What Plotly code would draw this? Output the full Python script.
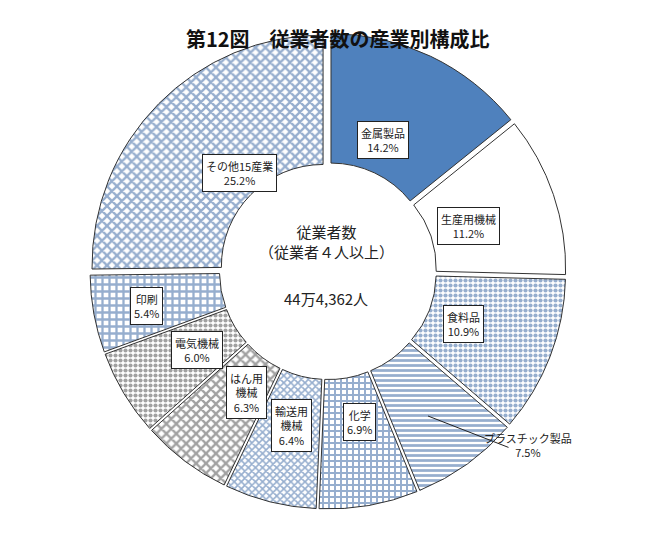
import plotly.graph_objects as go

labels = ["金属製品", "生産用機械", "食料品", "プラスチック製品", "化学", "輸送用機械", "はん用機械", "電気機械", "印刷", "その他15産業"]
values = [14.2, 11.2, 10.9, 7.5, 6.9, 6.4, 6.3, 6.0, 5.4, 25.2]
label_text = ["金属製品<br>14.2%", "生産用機械<br>11.2%", "食料品<br>10.9%", "プラスチック製品<br>7.5%", "化学<br>6.9%",
              "輸送用<br>機械<br>6.4%", "はん用<br>機械<br>6.3%", "電気機械<br>6.0%", "印刷<br>5.4%", "その他15産業<br>25.2%"]
label_px = [(375, 135), (492, 240), (476, 338), (568, 478), (351, 455), (283, 466), (218, 433), (163, 383), (122, 320), (194, 168)]

blue = "#4f81bd"
colors = [blue, "white", "white", "white", "white", "white", "white", "white", "white", "white"]
shapes = ["", "", ".", "-", "+", "x", "x", ".", "+", "x"]
fg = [blue, blue, "#2e5d9e", "#2e5d9e", "#2e5d9e", "#2e5d9e", "#444444", "#444444", "#2e5d9e", "#2e5d9e"]
sizes = [8, 8, 5, 5, 6, 5, 7, 5, 7, 7]

W, H = 658, 533
OFF = 22
cx, cy, R = 320, 285 - OFF, 238
fig = go.Figure(go.Pie(
    values=values, labels=labels, sort=False, direction="clockwise", rotation=0,
    hole=0.44, textinfo="none", hoverinfo="label+percent",
    pull=[0.03]*len(values),
    marker=dict(colors=colors, line=dict(color="#333333", width=1),
                pattern=dict(shape=shapes, fgcolor=fg, size=sizes, solidity=0.55, fillmode="overlay")),
    domain=dict(x=[(cx-R)/W, (cx+R)/W], y=[(H-cy-R)/H, (H-cy+R)/H]),
    showlegend=False))

font = "Noto Sans CJK JP"
ann = []
for t, (px, py) in zip(label_text, label_px):
    plastic = t.startswith("プラスチック")
    ann.append(dict(x=px/W, y=1-(py-OFF)/H, xref="paper", yref="paper", text=t, showarrow=False,
                    font=dict(family=font, size=11, color="#222"),
                    bgcolor="rgba(0,0,0,0)" if plastic else "white",
                    bordercolor="rgba(0,0,0,0)" if plastic else "#222", borderwidth=1, borderpad=3))
ann.append(dict(x=420/W, y=1-(430-OFF)/H, xref="paper", yref="paper", text="", showarrow=True, arrowhead=0,
                ax=82, ay=32, arrowcolor="#222", arrowwidth=1))
ann.append(dict(x=318/W, y=1-(255-OFF)/H, xref="paper", yref="paper", text="従業者数<br>（従業者４人以上）", showarrow=False,
                font=dict(family=font, size=15, color="#222")))
ann.append(dict(x=318/W, y=1-(312-OFF)/H, xref="paper", yref="paper", text="44万4,362人", showarrow=False,
                font=dict(family=font, size=15, color="#222")))
ann.append(dict(x=330/W, y=1-(36-OFF)/H, xref="paper", yref="paper", text="<b>第12図　従業者数の産業別構成比</b>", showarrow=False,
                font=dict(family=font, size=20, color="#111")))

fig.update_layout(width=W, height=H, margin=dict(l=0, r=0, t=0, b=0), paper_bgcolor="white",
                  annotations=ann)
fig.write_html("out.html")
